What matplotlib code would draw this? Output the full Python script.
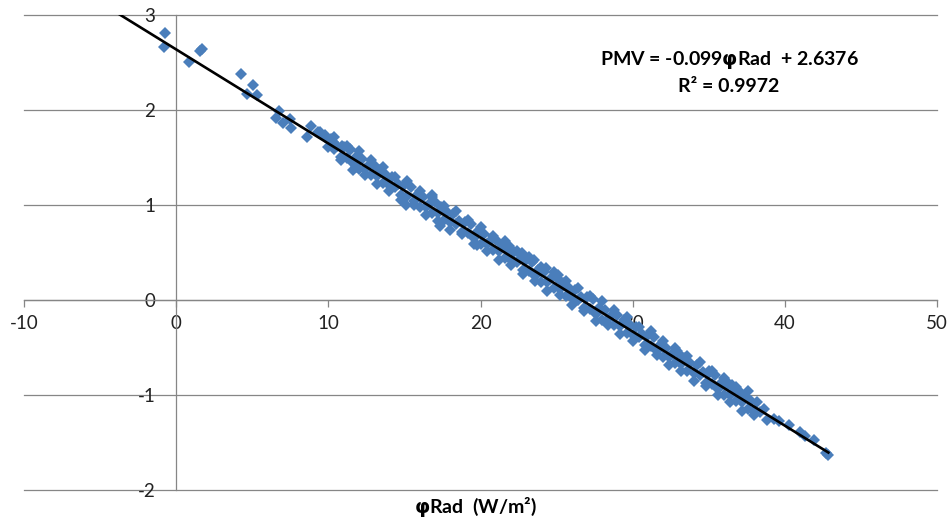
import numpy as np
import matplotlib
matplotlib.use("Agg")
import matplotlib.pyplot as plt

plt.rcParams['font.family'] = ['Lato', 'DejaVu Sans']
plt.rcParams['axes.unicode_minus'] = False

# sparse points at the low-radiation end
low_x = [-0.79, -0.72, 0.87, 1.58, 1.73, 4.27, 4.67, 5.06, 5.34, 6.57, 6.77, 7.0, 7.5, 7.56,
         8.58, 8.85, 9.35, 9.46, 9.8, 10.3, 10.9, 11.4, 11.8]
low_y = [2.66, 2.81, 2.51, 2.62, 2.64, 2.38, 2.17, 2.26, 2.16, 1.92, 1.99, 1.86, 1.91, 1.81,
         1.72, 1.83, 1.77, 1.77, 1.74, 1.66, 1.62, 1.58, 1.40]

# dense band, upper side
band_hi_x = [9.8, 10.2, 10.6, 11.0, 11.4, 11.8, 12.2, 12.6, 13.0, 13.4, 13.8, 14.2, 14.6, 15.0,
             15.4, 15.8, 16.2, 16.6, 17.0, 17.4, 17.8, 18.2, 18.6, 19.0, 19.4, 19.8, 20.2, 20.6,
             21.0, 21.4, 21.8, 22.2, 22.6, 23.0, 23.4, 23.8, 24.2, 24.6, 25.0, 25.4, 25.8, 26.2,
             26.6, 27.0, 27.4, 27.8, 28.2, 28.6, 29.0, 29.4, 29.8, 30.2, 30.6, 31.0, 31.4, 31.8,
             32.2, 32.6, 33.0, 33.4, 33.8, 34.2, 34.6, 35.0, 35.4, 35.8, 36.2, 36.6, 37.0, 37.4,
             37.8, 38.2, 38.6]
band_hi_y = [1.72, 1.70, 1.62, 1.61, 1.59, 1.51, 1.48, 1.41, 1.42, 1.37, 1.32, 1.30, 1.22, 1.21,
             1.19, 1.11, 1.08, 1.01, 1.03, 0.98, 0.93, 0.91, 0.83, 0.82, 0.80, 0.72, 0.69, 0.62,
             0.63, 0.58, 0.53, 0.51, 0.43, 0.42, 0.40, 0.32, 0.29, 0.22, 0.23, 0.18, 0.13, 0.11,
             0.03, 0.03, 0.01, -0.08, -0.10, -0.17, -0.16, -0.21, -0.26, -0.28, -0.36, -0.37, -0.39, -0.47,
             -0.50, -0.57, -0.56, -0.61, -0.66, -0.68, -0.76, -0.77, -0.79, -0.87, -0.90, -0.97, -0.96, -1.01,
             -1.06, -1.07, -1.15]

# dense band, lower side
band_lo_x = [10.0, 10.4, 10.8, 11.2, 11.6, 12.0, 12.4, 12.8, 13.2, 13.6, 14.0, 14.4, 14.8, 15.2,
             15.6, 16.0, 16.4, 16.8, 17.2, 17.6, 18.0, 18.4, 18.8, 19.2, 19.6, 20.0, 20.4, 20.8,
             21.2, 21.6, 22.0, 22.4, 22.8, 23.2, 23.6, 24.0, 24.4, 24.8, 25.2, 25.6, 26.0, 26.4,
             26.8, 27.2, 27.6, 28.0, 28.4, 28.8, 29.2, 29.6, 30.0, 30.4, 30.8, 31.2, 31.6, 32.0,
             32.4, 32.8, 33.2, 33.6, 34.0, 34.4, 34.8, 35.2, 35.6, 36.0, 36.4, 36.8, 37.2, 37.6,
             38.0, 38.4, 38.8]
band_lo_y = [1.61, 1.59, 1.51, 1.50, 1.44, 1.38, 1.38, 1.32, 1.31, 1.23, 1.21, 1.19, 1.11, 1.10,
             1.04, 0.98, 0.98, 0.92, 0.92, 0.84, 0.82, 0.80, 0.72, 0.71, 0.65, 0.59, 0.59, 0.53,
             0.52, 0.44, 0.42, 0.40, 0.32, 0.31, 0.25, 0.19, 0.19, 0.13, 0.12, 0.04, 0.02, 0.00,
             -0.08, -0.09, -0.15, -0.21, -0.20, -0.26, -0.27, -0.35, -0.37, -0.39, -0.47, -0.48, -0.54, -0.60,
             -0.60, -0.66, -0.67, -0.75, -0.77, -0.79, -0.87, -0.88, -0.94, -1.00, -1.00, -1.06, -1.07, -1.15,
             -1.17, -1.18, -1.26]

# outer edge of the band, above
edge_hi_x = [10.4, 11.2, 12.0, 12.8, 13.6, 14.4, 15.2, 16.0, 16.8, 17.6, 18.4, 19.2, 20.0, 20.8,
             21.6, 22.4, 23.2, 24.0, 24.8, 25.6, 26.4, 27.2, 28.0, 28.8, 29.6, 30.4, 31.2, 32.0,
             32.8, 33.6, 34.4, 35.2, 36.0, 36.8, 37.6]
edge_hi_y = [1.72, 1.62, 1.57, 1.47, 1.40, 1.30, 1.25, 1.15, 1.08, 0.99, 0.94, 0.84, 0.77, 0.67,
             0.62, 0.52, 0.45, 0.35, 0.30, 0.20, 0.13, 0.04, -0.01, -0.11, -0.18, -0.28, -0.33, -0.43,
             -0.50, -0.59, -0.65, -0.75, -0.82, -0.92, -0.96]

# outer edge of the band, below
edge_lo_x = [10.8, 11.6, 12.4, 13.2, 14.0, 14.8, 15.6, 16.4, 17.2, 18.0, 18.8, 19.6, 20.4, 21.2,
             22.0, 22.8, 23.6, 24.4, 25.2, 26.0, 26.8, 27.6, 28.4, 29.2, 30.0, 30.8, 31.6, 32.4,
             33.2, 34.0, 34.8, 35.6, 36.4, 37.2, 38.0]
edge_lo_y = [1.47, 1.37, 1.32, 1.22, 1.15, 1.05, 1.00, 0.90, 0.83, 0.74, 0.69, 0.59, 0.52, 0.42,
             0.37, 0.27, 0.20, 0.10, 0.05, -0.05, -0.12, -0.22, -0.26, -0.36, -0.43, -0.53, -0.58, -0.68,
             -0.75, -0.85, -0.90, -1.00, -1.07, -1.17, -1.21]

# stray points off the band and the high-radiation tail
extra_x = [15.1, 16.8, 17.35, 19.76, 21.9, 22.7, 23.5, 24.3, 25.1, 32.9, 35.0, 36.2, 36.5,
           39.3, 39.6, 40.3, 41.0, 41.3, 41.9, 42.7, 42.86]
extra_y = [1.00, 1.105, 0.78, 0.58, 0.57, 0.50, 0.42, 0.34, 0.26, -0.54, -0.75, -0.86, -0.89,
           -1.25, -1.27, -1.32, -1.39, -1.43, -1.47, -1.61, -1.63]

# trendline shown on the chart
slope = -0.099
intercept = 2.6376
r_squared = 0.9972
forecast_back = 3.2

x_all = np.array(low_x + band_hi_x + band_lo_x + edge_hi_x + edge_lo_x + extra_x)
y_all = np.array(low_y + band_hi_y + band_lo_y + edge_hi_y + edge_lo_y + extra_y)

fig = plt.figure(figsize=(9.51, 5.23), dpi=100)
ax = fig.add_axes([24/951, 1 - 490/523, 913/951, 475/523])

axis_grey = '#868686'

ax.plot(x_all, y_all, 'D', color='#4a7ebb', ms=6.3, mew=0, zorder=3)

trend_x = np.array([x_all.min() - forecast_back, x_all.max()])
ax.plot(trend_x, slope*trend_x + intercept, color='black', lw=1.9, zorder=4)

ax.set_xlim(-10, 50)
ax.set_ylim(-2, 3)
ax.set_xticks(range(-10, 51, 10))
ax.set_yticks(range(-2, 4))

ax.spines['top'].set_visible(False)
ax.spines['right'].set_visible(False)
ax.spines['left'].set_position(('data', 0))
ax.spines['bottom'].set_position(('data', 0))
for side in ['left', 'bottom']:
    ax.spines[side].set_color(axis_grey)
    ax.spines[side].set_linewidth(0.9)

ax.yaxis.grid(True, color=axis_grey, lw=0.9)
for gl in ax.get_ygridlines():
    gl.set_clip_on(False)
ax.set_axisbelow(True)

ax.tick_params(axis='y', length=0, pad=15, labelsize=13.5, labelcolor='#222222')
ax.tick_params(axis='x', direction='out', length=5, width=0.9, color=axis_grey,
               pad=6, labelsize=13.5, labelcolor='#222222')

phi = r'$\boldsymbol{\varphi}$'
fig.text(729/951, 1 - 60/523, 'PMV = -0.099' + phi + 'Rad  + 2.6376', ha='center', va='center',
         fontsize=14, fontweight='bold')
fig.text(729/951, 1 - 87/523, 'R² = %.4f' % r_squared, ha='center', va='center',
         fontsize=14, fontweight='bold')
fig.text(475/951, 1 - 507/523, phi + 'Rad  (W/m²)', ha='center', va='center',
         fontsize=14, fontweight='bold')

fig.savefig('out.png', dpi=100)
